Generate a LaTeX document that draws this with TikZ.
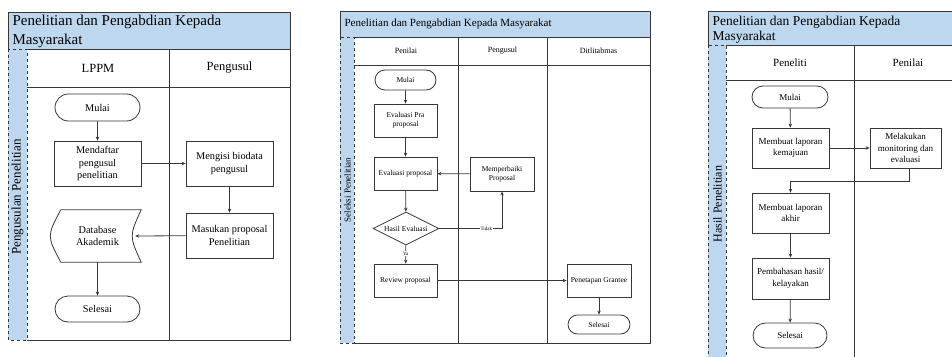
\documentclass[tikz,border=0pt]{standalone}
\usepackage{fontspec}
\setmainfont{Liberation Serif}
\usetikzlibrary{shapes.geometric,shapes.misc,arrows.meta}
\definecolor{laneblue}{RGB}{189,215,238}
\definecolor{linegray}{RGB}{55,55,55}

\begin{document}
\begin{tikzpicture}[x=1pt,y=-1pt,
  chartline/.style={draw=linegray,line width=1pt},
  lane/.style={draw=linegray,line width=0.8pt,dashed,fill=laneblue},
  box/.style={draw=linegray,line width=0.8pt,fill=white,align=center,inner sep=1pt},
  terminal/.style={box,rounded rectangle},
  decision/.style={box,diamond,aspect=2,inner sep=0pt},
  flow/.style={draw=linegray,line width=0.8pt,-{Stealth[length=4pt,width=3.5pt]}},
  fontA/.style={font=\fontsize{10.3}{12.5}\selectfont},
  fontB/.style={font=\fontsize{7.5}{9}\selectfont},
  fontC/.style={font=\fontsize{9}{11.5}\selectfont}]

\useasboundingbox (0,0) rectangle (952,356);
\clip (0,0) rectangle (952,356);

%%% first chart: pengusulan
% \draw title band and lanes
\draw[chartline,fill=laneblue] (8,12) rectangle (290,49);
\node[anchor=west,align=left,font=\fontsize{15}{19}\selectfont] (title1) at (9,31)
  {Penelitian dan Pengabdian Kepada\\Masyarakat};
\draw[lane] (8,49) rectangle (27,340);
\node[rotate=90,font=\fontsize{13}{15}\selectfont] (side1) at (17.5,197) {Pengusulan Penelitian};
\draw[chartline] (27,340) -- (290,340) -- (290,49);
\draw[chartline] (27,87) -- (290,87);
\draw[chartline] (169,49) -- (169,340);
\node[font=\fontsize{12.5}{14}\selectfont] (lppm) at (98,68) {LPPM};
\node[font=\fontsize{12.5}{14}\selectfont] (pengusul1) at (229.5,68) {Pengusul};

% \draw steps
\node[terminal,fontA,minimum width=87pt,minimum height=27pt] (mulai1) at (97.5,107.5) {Mulai};
\node[box,fontA,minimum width=87pt,minimum height=45pt] (daftar) at (97.5,163.5) {Mendaftar\\pengusul\\penelitian};
\node[box,fontA,minimum width=87pt,minimum height=45pt] (biodata) at (229.5,163.5) {Mengisi biodata\\pengusul};
\node[box,fontA,minimum width=87pt,minimum height=45pt] (masukan) at (229.5,235.5) {Masukan proposal\\Penelitian};
\node[fontA,align=center,minimum width=87pt,minimum height=52pt] (db) at (97.5,236) {Database\\Akademik};
\draw[draw=linegray,line width=0.8pt]
  ([xshift=7pt]db.north west) -- (db.north east) .. controls ([xshift=-12pt]db.east) ..
  (db.south east) -- ([xshift=7pt]db.south west) .. controls ([xshift=-7pt]db.west) .. cycle;
\node[terminal,fontA,minimum width=87pt,minimum height=26pt] (selesai1) at (97.5,309) {Selesai};

% \draw arrows
\draw[flow] (mulai1) -- (daftar);
\draw[flow] (daftar) -- (biodata);
\draw[flow] (biodata) -- (masukan);
\draw[flow] (masukan) -- ([xshift=-6pt]db.east);
\draw[flow] (db) -- (selesai1);

%%% second chart: seleksi
% \draw title band and lanes
\draw[chartline,fill=laneblue] (340,11) rectangle (650,37);
\node[anchor=west,font=\fontsize{11}{13}\selectfont] (title2) at (341,24)
  {Penelitian dan Pengabdian Kepada Masyarakat};
\draw[lane] (340,37) rectangle (354,343);
\node[rotate=90,font=\fontsize{9}{11}\selectfont] (side2) at (347.5,190) {Seleksi Penelitian};
\draw[chartline] (354,343) -- (650,343) -- (650,37);
\draw[chartline] (354,65) -- (650,65);
\draw[chartline] (458,37) -- (458,343);
\draw[chartline] (547,37) -- (547,343);
\node[font=\fontsize{8}{10}\selectfont] (penilai2) at (406,51) {Penilai};
\node[font=\fontsize{8}{10}\selectfont] (pengusul2) at (502.5,51) {Pengusul};
\node[font=\fontsize{8}{10}\selectfont] (ditlit) at (598.5,51) {Ditlitabmas};

% \draw steps
\node[terminal,fontB,minimum width=63pt,minimum height=20pt] (mulai2) at (405.5,80) {Mulai};
\node[box,fontB,minimum width=63pt,minimum height=33pt] (evapra) at (405.5,120.5) {Evaluasi Pra\\proposal};
\node[box,fontB,minimum width=63pt,minimum height=33pt] (evaprop) at (405.5,173.5) {Evaluasi proposal};
\node[box,fontB,minimum width=64pt,minimum height=34pt] (perbaiki) at (502,174) {Memperbaiki\\Proposal};
\node[decision,fontB,minimum width=66pt,minimum height=33pt] (hasil) at (406,228.5) {Hasil Evaluasi};
\node[box,fontB,minimum width=63pt,minimum height=33pt] (review) at (405.5,280.5) {Review proposal};
\node[box,fontB,minimum width=64pt,minimum height=33pt] (grantee) at (599,280.5) {Penetapan Grantee};
\node[terminal,fontB,minimum width=64pt,minimum height=19pt] (selesai2) at (599,324.5) {Selesai};

% \draw arrows
\draw[flow] (mulai2) -- (evapra);
\draw[flow] (evapra) -- (evaprop);
\draw[flow] (perbaiki) -- (evaprop);
\draw[flow] (evaprop) -- (hasil);
\draw[flow] (hasil.east) -| node[pos=0.375,fill=white,inner sep=0.5pt,font=\fontsize{5}{6}\selectfont] {Tidak} (perbaiki.south);
\draw[flow] (hasil) -- node[pos=0.45,fill=white,inner sep=0.5pt,font=\fontsize{5}{6}\selectfont] {Ya} (review);
\draw[flow] (review) -- (grantee);
\draw[flow] (grantee) -- (selesai2);

%%% third chart: hasil
% \draw title band and lanes
\draw[chartline,fill=laneblue] (708,11) rectangle (970,45);
\node[anchor=west,align=left,font=\fontsize{13.5}{15}\selectfont] (title3) at (709,29.5)
  {Penelitian dan Pengabdian Kepada\\Masyarakat};
\draw[lane] (708,45) rectangle (726,380);
\node[rotate=90,font=\fontsize{12}{14}\selectfont] (side3) at (717.5,204) {Hasil Penelitian};
\draw[chartline] (726,80) -- (970,80);
\draw[chartline] (854,45) -- (854,380);
\node[font=\fontsize{11}{13}\selectfont] (peneliti3) at (790,63) {Peneliti};
\node[font=\fontsize{11}{13}\selectfont] (penilai3) at (908,63) {Penilai};

% \draw steps
\node[terminal,fontC,minimum width=78pt,minimum height=22pt] (mulai3) at (790,97) {Mulai};
\node[box,fontC,minimum width=77pt,minimum height=40pt] (kemajuan) at (790.5,148) {Membuat laporan\\kemajuan};
\node[box,fontC,minimum width=71pt,minimum height=40pt] (monev) at (905.5,148) {Melakukan\\monitoring dan\\evaluasi};
\node[box,fontC,minimum width=77pt,minimum height=40pt] (akhir) at (790.5,213) {Membuat laporan\\akhir};
\node[box,fontC,minimum width=77pt,minimum height=41pt] (bahas) at (790.5,278.5) {Pembahasan hasil/\\kelayakan};
\node[terminal,fontC,minimum width=76pt,minimum height=25pt] (selesai3) at (790,335.5) {Selesai};

% \draw arrows
\draw[flow] (mulai3) -- (kemajuan);
\draw[flow] (kemajuan) -- (monev);
\draw[flow] ([xshift=3.5pt]monev.south) -- ++(0,13) -| (akhir.north);
\draw[flow] (akhir) -- (bahas);
\draw[flow] (bahas) -- (selesai3);

\end{tikzpicture}
\end{document}
